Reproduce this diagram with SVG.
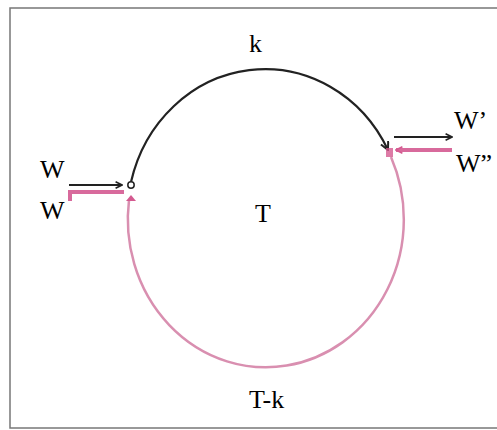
<svg xmlns="http://www.w3.org/2000/svg" width="497" height="430" viewBox="0 0 497 430">
<style>
text{font-family:"Liberation Serif","Times New Roman",serif;font-size:26px;fill:#000}
.blk{fill:none;stroke:#222;stroke-width:2.2}
.pk{fill:none;stroke:#d98fb0;stroke-width:2.5}
.pkd{fill:none;stroke:#d86a9c;stroke-width:4}
</style>
<defs>
<marker id="ah" viewBox="0 0 10 10" refX="9" refY="5" markerWidth="8" markerHeight="8" orient="auto" markerUnits="userSpaceOnUse">
<path d="M1,1 L9,5 L1,9" fill="none" stroke="#222" stroke-width="2"/>
</marker>
<marker id="ah2" viewBox="0 0 10 10" refX="9" refY="5" markerWidth="10" markerHeight="10" orient="auto" markerUnits="userSpaceOnUse">
<path d="M1,1 L9,5 L1,9" fill="none" stroke="#222" stroke-width="2"/>
</marker>
<marker id="ahp" viewBox="0 0 10 10" refX="9" refY="5" markerWidth="8" markerHeight="8" orient="auto" markerUnits="userSpaceOnUse">
<path d="M1,1 L9,5 L1,9" fill="none" stroke="#d45a90" stroke-width="2"/>
</marker>
</defs>
<rect x="10" y="8" width="500" height="420" fill="#fff" stroke="#777" stroke-width="1.5"/>
<g id="connectors">
<path class="blk" d="M131,182 A138,148 0 0,1 388,150" marker-end="url(#ah2)"/>
<path class="pk" d="M129,200 A138,148 0 1,0 391,157"/>
<line class="blk" x1="69" y1="185" x2="122" y2="185" stroke-width="3.5" marker-end="url(#ah)"/>
<path class="pkd" d="M70,201 L70,192 L124,192"/>
<path d="M126,201 L131,195 L136,201 Z" fill="#d45a90"/>
<line class="blk" x1="394" y1="137" x2="452" y2="137" stroke-width="3.5" marker-end="url(#ah)"/>
<line class="pkd" x1="452" y1="150" x2="396" y2="150" marker-end="url(#ahp)"/>
<rect x="386" y="148" width="7" height="9" fill="#d45a90" opacity="0.8"/>
<circle cx="131" cy="185" r="3.2" fill="#fff" stroke="#222" stroke-width="1.5"/>
</g>
<g id="node-k"><text x="249" y="52">k</text></g>
<g id="node-T"><text x="255" y="222">T</text></g>
<g id="node-Tk"><text x="249" y="408">T-k</text></g>
<g id="node-W1"><text x="40" y="178">W</text></g>
<g id="node-W2"><text x="40" y="219">W</text></g>
<g id="node-W3"><text x="454" y="129">W’</text></g>
<g id="node-W4"><text x="456" y="172">W”</text></g>
</svg>
